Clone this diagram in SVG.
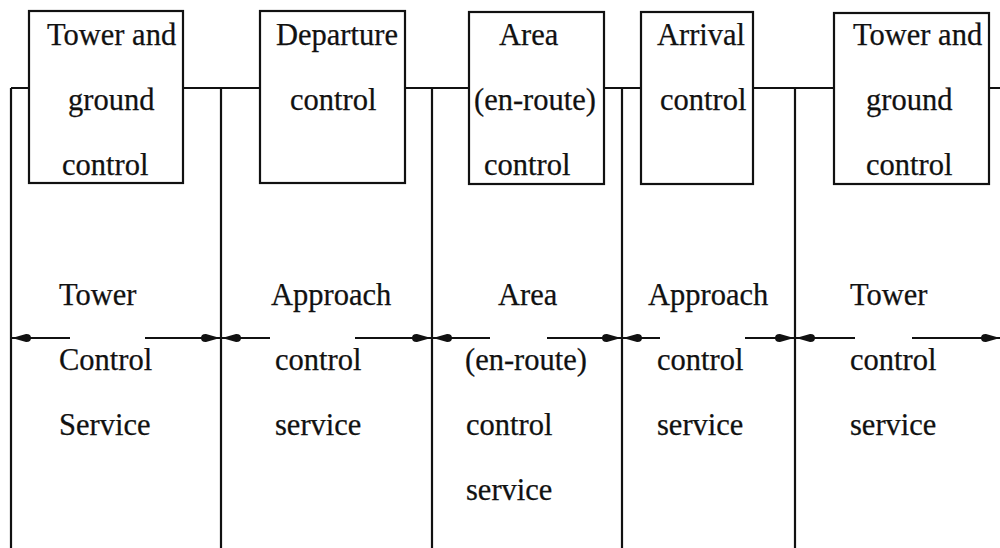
<svg xmlns="http://www.w3.org/2000/svg" width="1000" height="548" viewBox="0 0 1000 548">
  <style>
    .ln { stroke: #111; stroke-width: 2.2; fill: none; }
    .box { stroke: #111; stroke-width: 2.2; fill: #fff; }
    .t { font-family: "Liberation Serif", "Times New Roman", serif; font-size: 30.5px; fill: #111; stroke: #111; stroke-width: 0.25; }
  </style>
  <defs>
    <!-- bold teardrop arrowhead, tip at the end of the line -->
    <marker id="ah" viewBox="0 0 20 10" refX="20" refY="5" markerWidth="20" markerHeight="10" markerUnits="userSpaceOnUse" orient="auto">
      <path d="M1,5 Q1,0.8 6,1 L20,5 L6,9 Q1,9.2 1,5 Z" fill="#111"/>
    </marker>
  </defs>

  <rect width="1000" height="548" fill="#fff"/>

  <!-- connectors: bus line, sector boundaries, service-range arrows -->
  <g id="connectors">
    <path class="ln" d="M11,88 H1000"/>
    <path class="ln" d="M11,88 V548"/>
    <path class="ln" d="M221,88 V548"/>
    <path class="ln" d="M432,88 V548"/>
    <path class="ln" d="M622,88 V548"/>
    <path class="ln" d="M795,88 V548"/>

    <path class="ln" d="M70,338 H12" marker-end="url(#ah)"/>
    <path class="ln" d="M145,338 H220" marker-end="url(#ah)"/>
    <path class="ln" d="M270,338 H222" marker-end="url(#ah)"/>
    <path class="ln" d="M355,338 H431" marker-end="url(#ah)"/>
    <path class="ln" d="M490,338 H433" marker-end="url(#ah)"/>
    <path class="ln" d="M547,338 H621" marker-end="url(#ah)"/>
    <path class="ln" d="M660,338 H623" marker-end="url(#ah)"/>
    <path class="ln" d="M745,338 H794" marker-end="url(#ah)"/>
    <path class="ln" d="M855,338 H796" marker-end="url(#ah)"/>
    <path class="ln" d="M912,338 H1000" marker-end="url(#ah)"/>
  </g>

  <g id="tower-ground-1">
    <rect class="box" x="29" y="11" width="154" height="172"/>
    <text class="t" x="47" y="45">Tower and</text>
    <text class="t" x="68" y="110">ground</text>
    <text class="t" x="62" y="175">control</text>
  </g>

  <g id="departure">
    <rect class="box" x="260" y="11" width="145" height="172"/>
    <text class="t" x="276" y="45">Departure</text>
    <text class="t" x="290" y="110">control</text>
  </g>

  <g id="area">
    <rect class="box" x="469" y="12" width="135" height="172"/>
    <text class="t" x="499" y="45">Area</text>
    <text class="t" x="474" y="110">(en-route)</text>
    <text class="t" x="484" y="175">control</text>
  </g>

  <g id="arrival">
    <rect class="box" x="641" y="12" width="112" height="172"/>
    <text class="t" x="657" y="45">Arrival</text>
    <text class="t" x="660" y="110">control</text>
  </g>

  <g id="tower-ground-2">
    <rect class="box" x="834" y="13" width="155" height="171"/>
    <text class="t" x="853" y="45">Tower and</text>
    <text class="t" x="866" y="110">ground</text>
    <text class="t" x="866" y="175">control</text>
  </g>

  <g id="tower-service-1">
    <text class="t" x="59" y="305">Tower</text>
    <text class="t" x="59" y="370">Control</text>
    <text class="t" x="59" y="435">Service</text>
  </g>

  <g id="approach-service-1">
    <text class="t" x="271" y="305">Approach</text>
    <text class="t" x="275" y="370">control</text>
    <text class="t" x="275" y="435">service</text>
  </g>

  <g id="area-service">
    <text class="t" x="498" y="305">Area</text>
    <text class="t" x="465" y="370">(en-route)</text>
    <text class="t" x="466" y="435">control</text>
    <text class="t" x="466" y="500">service</text>
  </g>

  <g id="approach-service-2">
    <text class="t" x="648" y="305">Approach</text>
    <text class="t" x="657" y="370">control</text>
    <text class="t" x="657" y="435">service</text>
  </g>

  <g id="tower-service-2">
    <text class="t" x="850" y="305">Tower</text>
    <text class="t" x="850" y="370">control</text>
    <text class="t" x="850" y="435">service</text>
  </g>
</svg>
